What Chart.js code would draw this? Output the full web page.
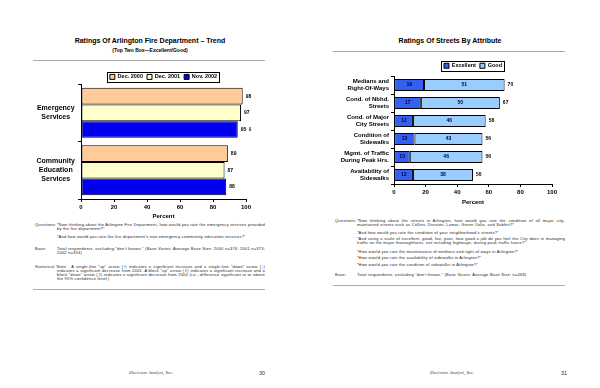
<!DOCTYPE html>
<html>
<head>
<meta charset="utf-8">
<script src="https://cdn.jsdelivr.net/npm/chart.js@4"></script>
<style>
  body { margin: 0; width: 600px; height: 388px; background: #fff; position: relative; overflow: hidden;
         font-family: "Liberation Sans", Arial, sans-serif; color: #000; }
  .box { position: absolute; }
  .title { position: absolute; width: 300px; text-align: center; font-weight: bold; font-size: 7px; line-height: 8px; }
  .sub { position: absolute; width: 300px; text-align: center; font-weight: bold; font-size: 5px; line-height: 6px; }
  .rule { position: absolute; height: 0; border-top: 1px solid #aaa; }
  .note { position: absolute; font-size: 4px; line-height: 4px; letter-spacing: 0.22px; text-align: justify; color: #222; }
  .foot { position: absolute; font-family: "Liberation Serif", serif; font-style: italic; font-size: 5px; color: #444; }
  .page { position: absolute; font-size: 5.5px; color: #333; }
</style>
</head>
<body>

<div class="title" style="left:0;top:37px;">Ratings Of Arlington Fire Department – Trend</div>
<div class="sub" style="left:0;top:47px;">(Top Two Box—Excellent/Good)</div>
<div class="rule" style="left:33px;top:60px;width:232px;"></div>

<div class="box" style="left:0;top:68px;width:300px;height:152px;"><canvas id="fireChart" width="300" height="152"></canvas></div>

<div class="note" style="left:35px;top:223px;">Questions:</div>
<div class="note" style="left:57px;top:223px;width:208px;">“Now thinking about the Arlington Fire Department, how would you rate the emergency services provided by the fire department?”</div>
<div class="note" style="left:57px;top:235px;width:208px;">“And how would you rate the fire department’s non-emergency community education services?”</div>
<div class="note" style="left:35px;top:247px;">Base:</div>
<div class="note" style="left:57px;top:247px;width:208px;">Total respondents, excluding “don’t knows.” (Base Varies; Average Base Size: 2000 n=374; 2001 n=373; 2002 n=394)</div>
<div class="note" style="left:35px;top:265px;width:208px;padding-left:22px;text-indent:-22px;">Statistical Note:&nbsp; A single-line “up” arrow (↑) indicates a significant increase and a single-line “down” arrow (↓) indicates a significant decrease from 2001. A block “up” arrow (⇧) indicates a significant increase and a block “down” arrow (⇩) indicates a significant decrease from 2000 (i.e., difference significant at or above the 95% confidence level.)</div>
<div class="rule" style="left:33px;top:289px;width:232px;"></div>

<div class="title" style="left:300px;top:37px;">Ratings Of Streets By Attribute</div>
<div class="rule" style="left:333px;top:51px;width:232px;"></div>

<div class="box" style="left:300px;top:59px;width:300px;height:147px;"><canvas id="streetChart" width="300" height="147"></canvas></div>

<div class="note" style="left:335px;top:219px;">Questions:</div>
<div class="note" style="left:357px;top:219px;width:208px;">“Now thinking about the streets in Arlington, how would you rate the condition of all major city-maintained streets such as Collins, Division, Lamar, Green Oaks, and Sublett?”</div>
<div class="note" style="left:357px;top:231px;width:208px;">“And how would you rate the condition of your neighborhood’s streets?”</div>
<div class="note" style="left:357px;top:237px;width:208px;">“And using a scale of excellent, good, fair, poor, how good a job do you feel the City does in managing traffic on the major thoroughfares, not including highways, during peak traffic hours?”</div>
<div class="note" style="left:357px;top:250px;width:208px;">“How would you rate the maintenance of medians and right-of-ways in Arlington?”</div>
<div class="note" style="left:357px;top:256px;width:208px;">“How would you rate the availability of sidewalks in Arlington?”</div>
<div class="note" style="left:357px;top:263px;width:208px;">“How would you rate the condition of sidewalks in Arlington?”</div>
<div class="note" style="left:335px;top:273px;">Base:</div>
<div class="note" style="left:357px;top:273px;width:208px;">Total respondents, excluding “don’t knows.” (Base Varies; Average Base Size: n=468)</div>
<div class="rule" style="left:333px;top:285px;width:232px;"></div>

<div class="foot" style="left:129px;top:370px;">Decision Analyst, Inc.</div>
<div class="page" style="left:259px;top:370px;">30</div>
<div class="foot" style="left:430px;top:370px;">Decision Analyst, Inc.</div>
<div class="page" style="left:561px;top:370px;">31</div>

<script>
const FONT = '"Liberation Sans", Arial, sans-serif';

// fire department chart
const fireCategories = [['Emergency', 'Services'], ['Community', 'Education', 'Services']];
const fireSeries = ['Dec. 2000', 'Dec. 2001', 'Nov. 2002'];
const dec2000 = [98, 89];
const dec2001 = [97, 87];
const nov2002 = [95, 88];
const nov2002Marks = ['⇩', ''];

// streets chart
const streetCategories = [
  ['Medians and', 'Right-Of-Ways'],
  ['Cond. of Nbhd.', 'Streets'],
  ['Cond. of Major', 'City Streets'],
  ['Condition of', 'Sidewalks'],
  ['Mgmt. of Traffic', 'During Peak Hrs.'],
  ['Availability of', 'Sidewalks']
];
const excellent = [19, 17, 12, 13, 10, 12];
const good = [51, 50, 46, 43, 46, 38];
const streetTotals = [70, 67, 58, 56, 56, 50];

const percentTicks = [0, 20, 40, 60, 80, 100];

// box around the legend, like the old office charts
const legendFrame = {
  id: 'legendFrame',
  afterDraw(chart) {
    const boxes = chart.legend && chart.legend.legendHitBoxes;
    if (!boxes || !boxes.length) return;
    let l = Infinity, r = -Infinity, t = Infinity, b = -Infinity;
    boxes.forEach(h => {
      l = Math.min(l, h.left); r = Math.max(r, h.left + h.width);
      t = Math.min(t, h.top); b = Math.max(b, h.top + h.height);
    });
    const ctx = chart.ctx;
    ctx.save();
    ctx.strokeStyle = '#000';
    ctx.lineWidth = 1;
    ctx.strokeRect(Math.round(l - 3) + 0.5, Math.round(t - 2) + 0.5, Math.round(r - l + 5), Math.round(b - t + 4));
    ctx.restore();
  }
};

const fireLabels = {
  id: 'fireLabels',
  afterDatasetsDraw(chart) {
    const ctx = chart.ctx;
    ctx.save();
    ctx.font = 'bold 5px ' + FONT;
    ctx.fillStyle = '#000';
    ctx.textBaseline = 'middle';
    ctx.textAlign = 'left';
    chart.data.datasets.forEach((ds, i) => {
      chart.getDatasetMeta(i).data.forEach((bar, j) => {
        const mark = ds.marks ? ds.marks[j] : '';
        ctx.fillText(ds.data[j] + (mark ? ' ' + mark : ''), bar.x + 3, bar.y);
      });
    });
    ctx.restore();
  }
};

const streetLabels = {
  id: 'streetLabels',
  afterDatasetsDraw(chart) {
    const ctx = chart.ctx;
    ctx.save();
    ctx.font = 'bold 5px ' + FONT;
    ctx.textBaseline = 'middle';
    chart.data.datasets.forEach((ds, i) => {
      chart.getDatasetMeta(i).data.forEach((bar, j) => {
        ctx.fillStyle = '#000033';
        ctx.textAlign = 'center';
        ctx.fillText(ds.data[j], (bar.x + bar.base) / 2, bar.y);
      });
    });
    const last = chart.getDatasetMeta(chart.data.datasets.length - 1).data;
    last.forEach((bar, j) => {
      ctx.fillStyle = '#000';
      ctx.textAlign = 'left';
      ctx.fillText(streetTotals[j], bar.x + 3, bar.y);
    });
    ctx.restore();
  }
};

function percentAxis(height, stacked) {
  return {
    min: percentTicks[0],
    max: percentTicks[percentTicks.length - 1],
    stacked: stacked,
    afterBuildTicks(s) { s.ticks = percentTicks.map(v => ({ value: v })); },
    ticks: { color: '#000', font: { family: FONT, size: 6, weight: 'bold' }, padding: 2, maxRotation: 0 },
    grid: { drawOnChartArea: false, drawTicks: true, tickLength: 3, color: '#000' },
    border: { color: '#000', width: 1 },
    title: { display: true, text: 'Percent', color: '#000', font: { family: FONT, size: 6, weight: 'bold' }, padding: 0 },
    afterFit(s) { s.height = height; }
  };
}

function legendOpts(pad, maxHeight) {
  return {
    position: 'top',
    fullSize: false,
    maxHeight: maxHeight,
    labels: { color: '#000', boxWidth: 5, boxHeight: 5, padding: pad, font: { family: FONT, size: 5.5, weight: 'bold' } }
  };
}

new Chart(document.getElementById('fireChart'), {
  type: 'bar',
  data: {
    labels: fireCategories,
    datasets: [
      { label: fireSeries[0], data: dec2000, backgroundColor: '#FFCC99', borderColor: '#000', borderWidth: 1, borderSkipped: false },
      { label: fireSeries[1], data: dec2001, backgroundColor: '#FFFFCC', borderColor: '#000', borderWidth: 1, borderSkipped: false },
      { label: fireSeries[2], data: nov2002, marks: nov2002Marks, backgroundColor: '#0000EE', borderColor: '#000', borderWidth: 1, borderSkipped: false }
    ]
  },
  options: {
    indexAxis: 'y',
    responsive: false,
    animation: false,
    events: [],
    devicePixelRatio: 1,
    categoryPercentage: 0.87,
    barPercentage: 1,
    layout: { padding: { left: 0, right: 54, top: 0, bottom: 0 } },
    scales: {
      x: percentAxis(21, false),
      y: {
        ticks: { color: '#000', crossAlign: 'center', padding: 3, autoSkip: false, font: { family: FONT, size: 7, weight: 'bold', lineHeight: 1.25 } },
        grid: { drawOnChartArea: false, tickLength: 3, color: '#000' },
        border: { color: '#000', width: 1 },
        afterFit(s) { s.width = 81; }
      }
    },
    plugins: {
      legend: legendOpts(4, 14),
      tooltip: { enabled: false }
    }
  },
  plugins: [legendFrame, fireLabels]
});

new Chart(document.getElementById('streetChart'), {
  type: 'bar',
  data: {
    labels: streetCategories,
    datasets: [
      { label: 'Excellent', data: excellent, backgroundColor: '#3360F0', borderColor: '#000', borderWidth: 1, borderSkipped: false },
      { label: 'Good', data: good, backgroundColor: '#99CCFF', borderColor: '#000', borderWidth: 1, borderSkipped: false }
    ]
  },
  options: {
    indexAxis: 'y',
    responsive: false,
    animation: false,
    events: [],
    devicePixelRatio: 1,
    categoryPercentage: 0.67,
    barPercentage: 1,
    layout: { padding: { left: 0, right: 48, top: 0, bottom: 0 } },
    scales: {
      x: percentAxis(22, true),
      y: {
        stacked: true,
        ticks: { color: '#000', padding: 2, autoSkip: false, font: { family: FONT, size: 6, weight: 'bold', lineHeight: 1.15 } },
        grid: { drawOnChartArea: false, tickLength: 3, color: '#000' },
        border: { color: '#000', width: 1 },
        afterFit(s) { s.width = 94; }
      }
    },
    plugins: {
      legend: legendOpts(4, 17),
      tooltip: { enabled: false }
    }
  },
  plugins: [legendFrame, streetLabels]
});
</script>
</body>
</html>
